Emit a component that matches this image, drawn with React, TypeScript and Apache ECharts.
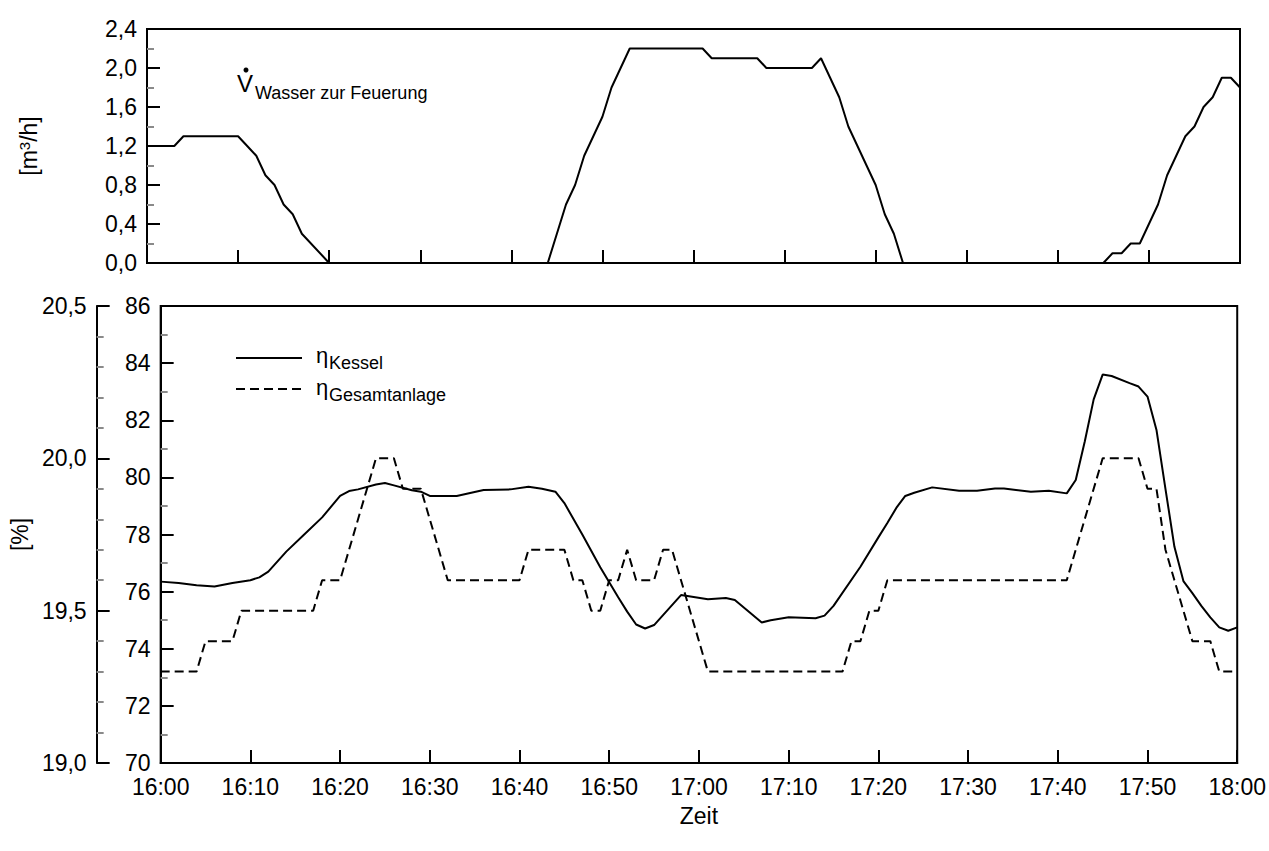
import React, { useEffect, useRef } from "react";
import * as echarts from "echarts";

// Zeit in Minuten ab 16:00
const timeTicks = [0, 10, 20, 30, 40, 50, 60, 70, 80, 90, 100, 110, 120];

// V̇ Wasser zur Feuerung [m³/h]
const wasserMin = [0, 3, 4, 10, 11, 12, 13, 14, 15, 16, 17, 20, 44, 45, 46, 47, 48, 49, 50, 51, 52, 53, 61, 62, 67, 68, 73, 74, 75, 76, 77, 78, 79, 80, 81, 82, 83, 105, 106, 107, 108, 109, 110, 111, 112, 113, 114, 115, 116, 117, 118, 119, 120];
const wasserVal = [1.2, 1.2, 1.3, 1.3, 1.2, 1.1, 0.9, 0.8, 0.6, 0.5, 0.3, 0, 0, 0.3, 0.6, 0.8, 1.1, 1.3, 1.5, 1.8, 2.0, 2.2, 2.2, 2.1, 2.1, 2.0, 2.0, 2.1, 1.9, 1.7, 1.4, 1.2, 1.0, 0.8, 0.5, 0.3, 0, 0, 0.1, 0.1, 0.2, 0.2, 0.4, 0.6, 0.9, 1.1, 1.3, 1.4, 1.6, 1.7, 1.9, 1.9, 1.8];

// η Kessel [%] (linke innere Achse)
const kesselMin = [0, 2, 4, 6, 8, 10, 11, 12, 14, 16, 18, 20, 21, 22, 24, 25, 26, 28, 29, 30, 33, 34, 36, 39, 41, 42.5, 44, 45, 47, 49, 50, 51, 52, 53, 54, 55, 58, 61, 63, 64, 67, 68, 70, 73, 74, 75, 78, 80, 81, 82, 83, 84, 86, 89, 91, 93, 94, 97, 99, 101, 102, 103, 104, 105, 106, 108, 109, 110, 111, 112, 113, 114, 115, 116, 117, 118, 119, 120];
const kesselVal = [76.35, 76.3, 76.22, 76.18, 76.3, 76.4, 76.5, 76.7, 77.4, 78.0, 78.6, 79.35, 79.52, 79.58, 79.75, 79.8, 79.72, 79.55, 79.5, 79.35, 79.35, 79.42, 79.56, 79.58, 79.67, 79.6, 79.5, 79.1, 78.0, 76.85, 76.33, 75.8, 75.3, 74.85, 74.71, 74.83, 75.88, 75.73, 75.78, 75.71, 74.92, 75.0, 75.1, 75.07, 75.16, 75.5, 76.87, 77.9, 78.4, 78.93, 79.35, 79.46, 79.65, 79.53, 79.53, 79.61, 79.61, 79.5, 79.53, 79.44, 79.91, 81.25, 82.73, 83.6, 83.55, 83.3, 83.18, 82.83, 81.66, 79.6, 77.57, 76.37, 75.95, 75.5, 75.1, 74.75, 74.63, 74.75];

// η Gesamtanlage [%] (linke äußere Achse)
const gesamtMin = [0, 4, 5, 8, 9, 17, 18, 20, 24, 26, 27, 29, 32, 40, 41, 45, 46, 47, 48, 49, 50, 51, 52, 53, 55, 56, 57, 61, 76, 77, 78, 79, 80, 81, 101, 105, 109, 110, 111, 112, 113, 114, 115, 117, 118, 120];
const gesamtVal = [19.3, 19.3, 19.4, 19.4, 19.5, 19.5, 19.6, 19.6, 20.0, 20.0, 19.9, 19.9, 19.6, 19.6, 19.7, 19.7, 19.6, 19.6, 19.5, 19.5, 19.6, 19.6, 19.7, 19.6, 19.6, 19.7, 19.7, 19.3, 19.3, 19.4, 19.4, 19.5, 19.5, 19.6, 19.6, 20.0, 20.0, 19.9, 19.9, 19.7, 19.6, 19.5, 19.4, 19.4, 19.3, 19.3];

const FONT = "'Liberation Sans', Arial, sans-serif";
const FS = 23;
const zip = (a: number[], b: number[]) => a.map((x, i) => [x, b[i]]);
const comma = (d: number) => (v: number) => v.toFixed(d).replace(".", ",");
const fmtTime = (v: number) => {
  const t = 16 * 60 + v;
  const h = Math.floor(t / 60);
  const m = Math.round(t % 60);
  return `${h}:${String(m).padStart(2, "0")}`;
};

const axisLine = { show: true, lineStyle: { color: "#000", width: 2 } };
const majorTick = { show: true, inside: true, length: 13, lineStyle: { color: "#000", width: 2 } };
const minorTick = (n: number) => ({ show: true, splitNumber: n, length: 7, lineStyle: { color: "#8a8a8a", width: 2 } });
const labelStyle = { color: "#000", fontSize: FS, fontFamily: FONT };
const nameStyle = { color: "#000", fontSize: FS, fontFamily: FONT };

export default function App() {
  const ref = useRef<HTMLDivElement>(null);
  useEffect(() => {
    if (!ref.current) return;
    const chart = echarts.init(ref.current, undefined, { renderer: "svg" });
    chart.setOption({
      animation: false,
      backgroundColor: "#fff",
      grid: [
        { left: 147, top: 29, width: 1093, height: 234, show: true, borderColor: "#000", borderWidth: 2, backgroundColor: "transparent" },
        { left: 147, top: 306, width: 1093, height: 457, show: true, borderColor: "#000", borderWidth: 2, backgroundColor: "transparent" },
      ],
      xAxis: [
        {
          gridIndex: 0, type: "value", min: timeTicks[0], max: timeTicks[timeTicks.length - 1], interval: 10,
          axisLine, axisTick: majorTick, axisLabel: { show: false }, splitLine: { show: false },
        },
        {
          gridIndex: 1, type: "value", min: timeTicks[0], max: timeTicks[timeTicks.length - 1], interval: 10,
          axisLine, axisTick: majorTick, splitLine: { show: false },
          axisLabel: { ...labelStyle, margin: 12, formatter: fmtTime },
          name: "Zeit", nameLocation: "middle", nameGap: 41, nameTextStyle: nameStyle,
        },
      ],
      yAxis: [
        {
          gridIndex: 0, type: "value", min: 0, max: 2.4, interval: 0.4,
          axisLine, axisTick: majorTick, minorTick: minorTick(2), splitLine: { show: false }, minorSplitLine: { show: false },
          axisLabel: { ...labelStyle, margin: 10, formatter: comma(1) },
          name: "[m{sup|3}/h]", nameLocation: "middle", nameGap: 107, nameRotate: 90,
          nameTextStyle: { ...nameStyle, rich: { sup: { fontSize: 15, fontFamily: FONT, color: "#000", verticalAlign: "top", padding: [0, 0, 8, 0] } } },
        },
        {
          gridIndex: 1, type: "value", min: 70, max: 86, interval: 2,
          axisLine, axisTick: majorTick, minorTick: minorTick(2), splitLine: { show: false }, minorSplitLine: { show: false },
          axisLabel: { ...labelStyle, margin: 10 },
        },
        {
          gridIndex: 1, type: "value", min: 19, max: 20.5, interval: 0.5, position: "left", offset: 64,
          axisLine, axisTick: majorTick, minorTick: minorTick(5), splitLine: { show: false }, minorSplitLine: { show: false },
          axisLabel: { ...labelStyle, margin: 10, formatter: comma(1) },
          name: "[%]", nameLocation: "middle", nameGap: 44, nameRotate: 90, nameTextStyle: nameStyle,
        },
      ],
      series: [
        {
          name: "Wasser zur Feuerung", type: "line", xAxisIndex: 0, yAxisIndex: 0, symbol: "none",
          data: zip(wasserMin, wasserVal), lineStyle: { color: "#000", width: 2 },
        },
        {
          name: "Kessel", type: "line", xAxisIndex: 1, yAxisIndex: 1, symbol: "none",
          data: zip(kesselMin, kesselVal), lineStyle: { color: "#000", width: 2 },
        },
        {
          name: "Gesamtanlage", type: "line", xAxisIndex: 1, yAxisIndex: 2, symbol: "none",
          data: zip(gesamtMin, gesamtVal), lineStyle: { color: "#000", width: 2, type: [9, 5] },
        },
      ],
      graphic: [
        { type: "text", left: 237, top: 71, style: { text: "V", fill: "#000", font: `24px ${FONT}` } },
        { type: "circle", shape: { cx: 246, cy: 70, r: 2.5 }, style: { fill: "#000" } },
        { type: "text", left: 255, top: 84, style: { text: "Wasser zur Feuerung", fill: "#000", font: `18px ${FONT}` } },
        { type: "line", shape: { x1: 236, y1: 358, x2: 302, y2: 358 }, style: { stroke: "#000", lineWidth: 2 } },
        { type: "line", shape: { x1: 236, y1: 389, x2: 302, y2: 389 }, style: { stroke: "#000", lineWidth: 2, lineDash: [9, 5] } },
        { type: "text", left: 316, top: 344, style: { text: "η", fill: "#000", font: `22px ${FONT}` } },
        { type: "text", left: 329, top: 354, style: { text: "Kessel", fill: "#000", font: `18px ${FONT}` } },
        { type: "text", left: 316, top: 376, style: { text: "η", fill: "#000", font: `22px ${FONT}` } },
        { type: "text", left: 329, top: 386, style: { text: "Gesamtanlage", fill: "#000", font: `18px ${FONT}` } },
      ],
    });
    return () => chart.dispose();
  }, []);
  return <div ref={ref} style={{ position: "fixed", left: 0, top: 0, width: 1269, height: 851, background: "#fff" }} />;
}
